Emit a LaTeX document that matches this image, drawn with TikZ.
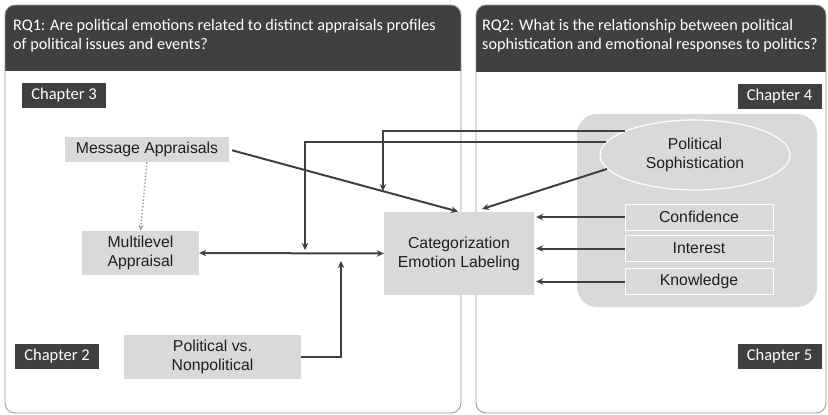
\documentclass[tikz,border=0pt]{standalone}
\usepackage{fontspec}
\setmainfont{Liberation Sans}
\newfontfamily\hfont{Carlito}
\usetikzlibrary{shapes.geometric,arrows.meta,calc}
\definecolor{dk}{HTML}{404040}
\definecolor{lg}{HTML}{D9D9D9}
\definecolor{fr}{HTML}{9A9A9A}
\tikzset{
  box/.style={fill=lg,draw=none,inner sep=0pt,align=center,font=\fontsize{15.8}{19}\selectfont,text=black!88},
  sbox/.style={box,draw=white,line width=1pt},
  chap/.style={fill=dk,text=white,inner sep=0pt,minimum width=84pt,minimum height=25pt,font=\hfont\fontsize{16.5}{18}\selectfont},
  hdrtxt/.style={text=white,align=left,inner sep=0pt,anchor=west,font=\hfont\fontsize{16.2}{19.5}\selectfont},
  arr/.style={draw=dk,line width=2pt,-{Stealth[length=7pt,width=6.5pt]}},
  darr/.style={draw=dk,line width=2pt,{Stealth[length=7pt,width=6.5pt]}-{Stealth[length=7pt,width=6.5pt]}},
  frame/.style={draw=fr,line width=0.9pt,rounded corners=10pt}
}
\begin{document}
\begin{tikzpicture}[x=1pt,y=-1pt]
\useasboundingbox (0,0) rectangle (828,415);
% left panel
\begin{scope}
  \clip[rounded corners=10pt] (5,5) rectangle (461,413);
  \fill[dk] (5,5) rectangle (461,71);
\end{scope}
\draw[frame] (5,5) rectangle (461,413);
\node[hdrtxt] (h1) at (13,35.5) {RQ1: Are political emotions related to distinct appraisals profiles\\of political issues and events?};
% right panel
\begin{scope}
  \clip[rounded corners=10pt] (476,5) rectangle (826,413);
  \fill[dk] (476,5) rectangle (826,72);
\end{scope}
\draw[frame] (476,5) rectangle (826,413);
\node[hdrtxt] (h2) at (482,35.5) {RQ2: What is the relationship between political\\sophistication and emotional responses to politics?};
% chapters
\node[chap] (c3) at (64,95) {Chapter 3};
\node[chap] (c2) at (57,356) {Chapter 2};
\node[chap] (c4) at (779.5,96) {Chapter 4};
\node[chap] (c5) at (779.5,356) {Chapter 5};
% gray sophistication panel
\node[fill=lg,rounded corners=20pt,minimum width=240pt,minimum height=193pt,inner sep=0pt] (sp) at (697,210.5) {};
\node[ellipse,fill=lg,draw=white,line width=1.2pt,minimum width=190pt,minimum height=70pt,inner sep=0pt,align=center,font=\fontsize{15.8}{19}\selectfont,text=black!88] (ps) at (695,155) {Political\\Sophistication};
\node[sbox,minimum width=148pt,minimum height=26pt] (conf) at (699,217) {Confidence};
\node[sbox,minimum width=148pt,minimum height=26pt] (int) at (699,248.5) {Interest};
\node[sbox,minimum width=148pt,minimum height=26pt] (know) at (699,281.5) {Knowledge};
% left nodes
\node[box,minimum width=164pt,minimum height=25pt] (ma) at (147,149.5) {Message Appraisals};
\node[box,minimum width=117pt,minimum height=44pt] (ml) at (140.5,253) {Multilevel\\Appraisal};
\node[box,minimum width=177pt,minimum height=44pt] (pv) at (212.5,357) {Political vs.\\Nonpolitical};
\node[box,minimum width=150pt,minimum height=83pt] (cat) at (459,253.5) {Categorization\\Emotion Labeling};
% coordinates
\coordinate (t1) at (383,191);
\coordinate (t2) at (305,250);
\coordinate (t3) at (341,261);
\coordinate (t4) at (482,209);
% connectors
\draw[arr,draw=fr,line width=1.4pt,dotted,-{Stealth[length=6pt,width=5pt]}] (ma.south) -- (ml.north);
\draw[darr] (ml.east) -- (cat.west);
\draw[arr,shorten <=3pt,shorten >=1pt] (ma.east) -- (cat.north);
\draw[arr] (ps.189) -- (t4);
\draw[arr] (ps.161) -- (t1 |- ps.161) -- (t1);
\draw[arr] (ps.172) -- (t2 |- ps.172) -- (t2);
\draw[arr] (pv.east) -- (t3 |- pv.east) -- (t3);
\draw[arr,shorten >=2pt] (conf.west) -- (cat.east |- conf.west);
\draw[arr,shorten >=2pt] (int.west) -- (cat.east |- int.west);
\draw[arr,shorten >=2pt] (know.west) -- (cat.east |- know.west);
\end{tikzpicture}
\end{document}
